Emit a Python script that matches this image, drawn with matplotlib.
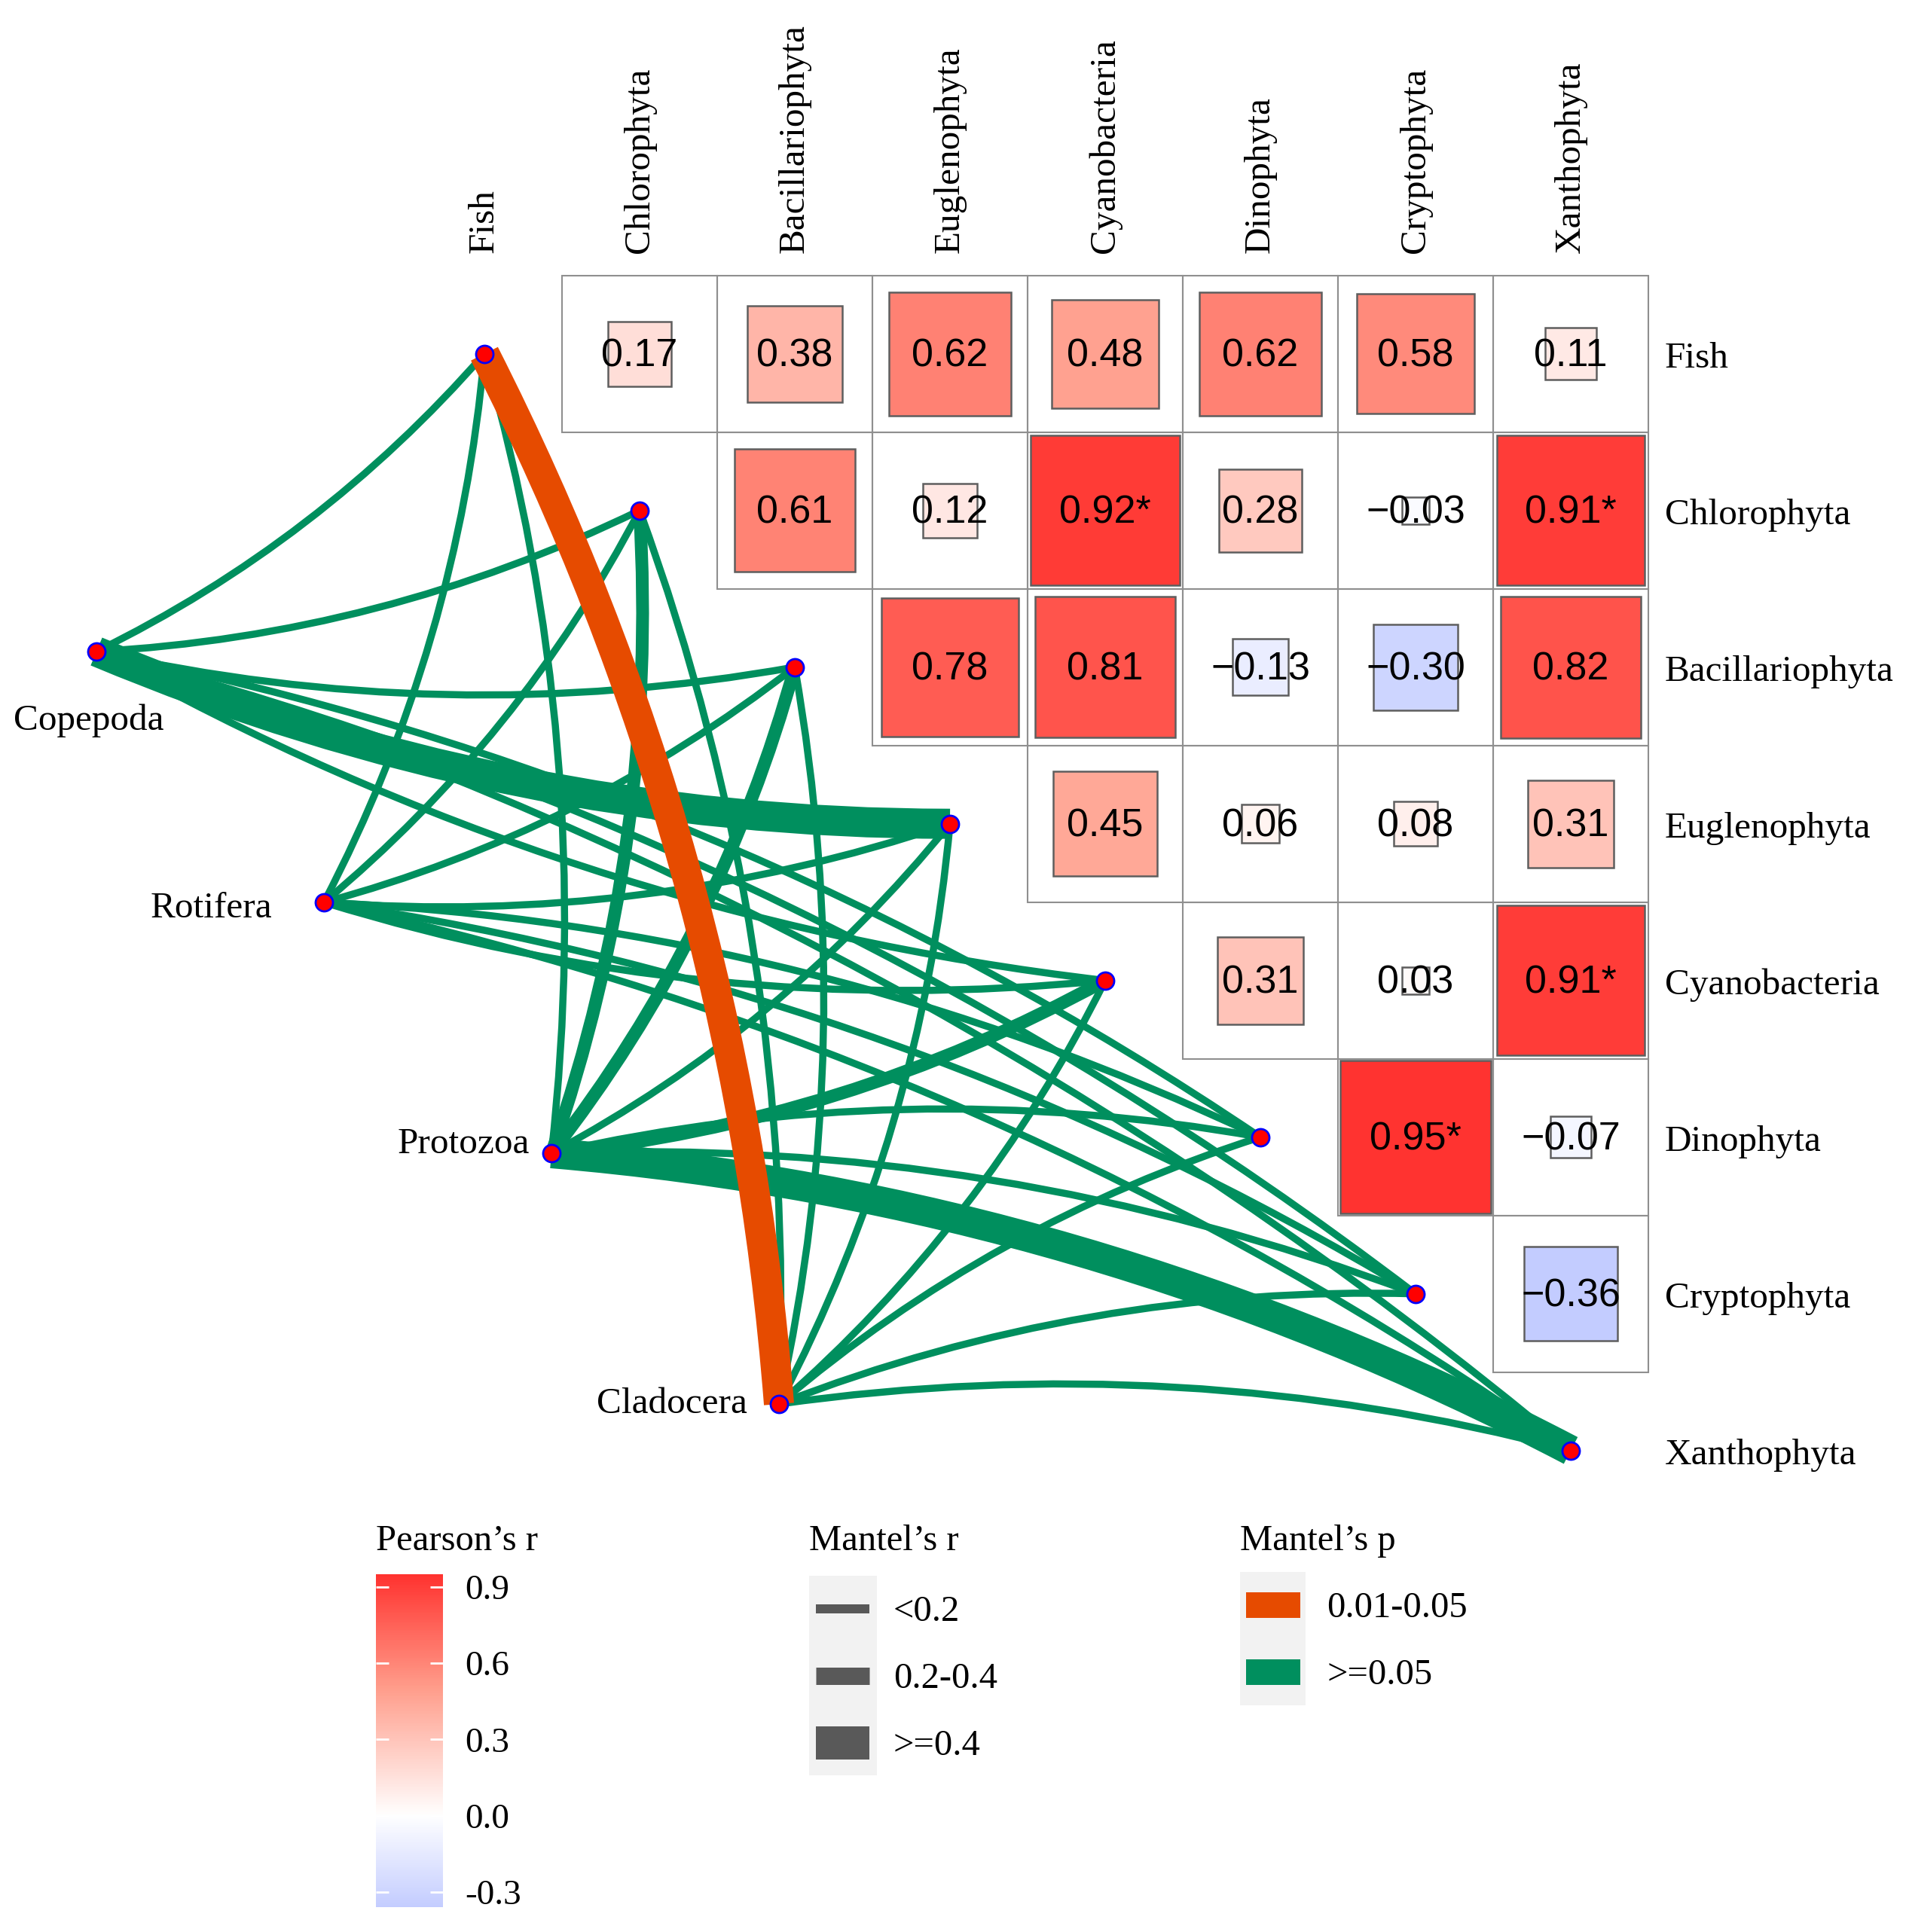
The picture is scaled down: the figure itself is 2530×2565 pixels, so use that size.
#!/usr/bin/python
########################
# TITLE: mantel_pearson_plot
# PURPOSE: pearson heat-squares of phytoplankton groups + mantel links to zooplankton
########################


#################################
# Importing Modules
#################################
import numpy as np
import pandas as pd
import matplotlib
matplotlib.use('Agg')
import matplotlib.pyplot as plt
from matplotlib.path import Path
from matplotlib.patches import PathPatch, Rectangle
from matplotlib.colors import LinearSegmentedColormap, Normalize

#################################
# Defining Constants
#################################
env = ['Fish', 'Chlorophyta', 'Bacillariophyta', 'Euglenophyta',
       'Cyanobacteria', 'Dinophyta', 'Cryptophyta', 'Xanthophyta']
species = ['Copepoda', 'Rotifera', 'Protozoa', 'Cladocera']

# pearson's r, upper triangle, row by row
r_fish = [0.17, 0.38, 0.62, 0.48, 0.62, 0.58, 0.11]
r_chlo = [0.61, 0.12, 0.92, 0.28, -0.03, 0.91]
r_baci = [0.78, 0.81, -0.13, -0.30, 0.82]
r_eugl = [0.45, 0.06, 0.08, 0.31]
r_cyan = [0.31, 0.03, 0.91]
r_dino = [0.95, -0.07]
r_cryp = [-0.36]
pearson_rows = [r_fish, r_chlo, r_baci, r_eugl, r_cyan, r_dino, r_cryp]
signif_pairs = [('Chlorophyta', 'Cyanobacteria'), ('Chlorophyta', 'Xanthophyta'),
                ('Cyanobacteria', 'Xanthophyta'), ('Dinophyta', 'Cryptophyta')]

# mantel r / p of each zooplankton group against env (same order as env)
mantel_r_cope = [0.12, 0.18, 0.15, 0.45, 0.14, 0.10, 0.12, 0.16]
mantel_r_roti = [0.10, 0.08, 0.12, 0.15, 0.11, 0.09, 0.13, 0.10]
mantel_r_prot = [0.13, 0.28, 0.32, 0.17, 0.26, 0.15, 0.12, 0.42]
mantel_r_clad = [0.46, 0.14, 0.16, 0.11, 0.13, 0.10, 0.15, 0.12]
mantel_p_cope = [0.31, 0.12, 0.40, 0.07, 0.35, 0.52, 0.44, 0.29]
mantel_p_roti = [0.48, 0.63, 0.37, 0.22, 0.41, 0.58, 0.33, 0.47]
mantel_p_prot = [0.27, 0.09, 0.08, 0.34, 0.11, 0.39, 0.46, 0.06]
mantel_p_clad = [0.03, 0.36, 0.28, 0.51, 0.42, 0.61, 0.30, 0.38]

W, H = 2530, 2565
DPI = 100
X0, CW = 643.0, 206.0     # pixel x of col 0 center, cell width
Y0, CH = 469.7, 208.0     # pixel y of row 0 center, cell height

serif = 'Liberation Serif'
sans = 'Liberation Sans'
green = '#008F5E'
orange = '#E64B00'

#################################
# Defining Functions
#################################
def px(x, y):
    # pixel (from top-left) -> data coords
    return (x - X0) / CW, (Y0 - y) / CH


def curve_path(p0, p1, k):
    x0, y0 = p0
    x1, y1 = p1
    dx, dy = x1 - x0, y1 - y0
    cx = (x0 + x1) / 2 + k * dy
    cy = (y0 + y1) / 2 - k * dx
    return Path([(x0, y0), (cx, cy), (x1, y1)],
                [Path.MOVETO, Path.CURVE3, Path.CURVE3])


def fmt(v, star):
    s = '%.2f' % v
    s = s.replace('-', '\u2212')
    if star:
        s = s + '*'
    return s

#################################
# Performing Work
#################################
cmap = LinearSegmentedColormap.from_list(
    'pr', [(0.0, (91/255, 116/255, 1.0)), (0.5, (1, 1, 1)),
           (0.75, (1.0, 158/255, 140/255)), (1.0, (1.0, 40/255, 38/255))])
norm = Normalize(-1, 1)

fig = plt.figure(figsize=(W / DPI, H / DPI), dpi=DPI)
ax = fig.add_axes([0, 0, 1, 1])
ax.set_xlim(-X0 / CW, (W - X0) / CW)
ax.set_ylim(-(H - Y0) / CH, Y0 / CH)
ax.axis('off')

# correlation cells
for i, row in enumerate(pearson_rows):
    for k, val in enumerate(row):
        j = i + 1 + k
        ax.add_patch(Rectangle((j - 0.5, -i - 0.5), 1, 1, fill=False,
                               ec='#8F8F8F', lw=1.5, zorder=1))
        s = np.sqrt(abs(val))
        ax.add_patch(Rectangle((j - s / 2, -i - s / 2), s, s,
                               fc=cmap(norm(val)), ec='#5E5E5E', lw=1.8, zorder=2))
        star = (env[i], env[j]) in signif_pairs
        ax.text(j, -i - 0.015, fmt(val, star), ha='center', va='center',
                fontsize=37.5, family=sans, zorder=3)

# axis labels of the matrix
for i, name in enumerate(env):
    ax.text(i, px(0, 336)[1], name, rotation=90, ha='center', va='bottom',
            fontsize=35.5, family=serif)
    ax.text(px(2210, 0)[0], -i - 0.03, name, ha='left', va='center',
            fontsize=35.5, family=serif)

# mantel links
mantel = pd.DataFrame({
    'spec': np.repeat(species, len(env)),
    'env': env * len(species),
    'r': mantel_r_cope + mantel_r_roti + mantel_r_prot + mantel_r_clad,
    'p': mantel_p_cope + mantel_p_roti + mantel_p_prot + mantel_p_clad,
})
mantel['rd'] = pd.cut(mantel['r'], [-np.inf, 0.2, 0.4, np.inf], right=False,
                      labels=['<0.2', '0.2-0.4', '>=0.4'])
mantel['pd'] = pd.cut(mantel['p'], [0.01, 0.05, 1.0], right=False,
                      labels=['0.01-0.05', '>=0.05'])
width_map = {'<0.2': 9.5 * 0.72, '0.2-0.4': 17 * 0.72, '>=0.4': 40 * 0.72}
color_map = {'0.01-0.05': orange, '>=0.05': green}

sp_start = np.array(px(128, 865))
sp_end = np.array(px(1034, 1864))
sp_pos = {s: sp_start + (sp_end - sp_start) * t
          for s, t in zip(species, np.linspace(0, 1, len(species)))}
env_pos = {e: (float(i), -float(i)) for i, e in enumerate(env)}
sp_mean_y = np.mean([p[1] for p in sp_pos.values()])

mantel = mantel.sort_values('pd', ascending=False, kind='stable')
for _, row in mantel.iterrows():
    p0 = sp_pos[row['spec']]
    p1 = env_pos[row['env']]
    k = 0.1 if p1[1] > sp_mean_y else -0.1
    patch = PathPatch(curve_path(p0, p1, k), fill=False,
                      ec=color_map[row['pd']], lw=width_map[row['rd']],
                      capstyle='butt', joinstyle='round', zorder=4)
    ax.add_patch(patch)

# nodes
ex = [p[0] for p in env_pos.values()]
ey = [p[1] for p in env_pos.values()]
sx = [p[0] for p in sp_pos.values()]
sy = [p[1] for p in sp_pos.values()]
ax.scatter(ex + sx, ey + sy, s=275, c='#FF0000', edgecolors='#0000FF',
           linewidths=2, zorder=6)

# species labels
lab_off = {'Copepoda': (-10, 92), 'Rotifera': (-69, 8),
           'Protozoa': (-29, -12), 'Cladocera': (-42, 0)}
for s in species:
    x, y = sp_pos[s]
    ox, oy = lab_off[s]
    if s == 'Copepoda':
        ax.text(x + ox / CW, y - oy / CH, s, ha='center', va='center',
                fontsize=35.5, family=serif)
    else:
        ax.text(x + ox / CW, y - oy / CH, s, ha='right', va='center',
                fontsize=35.5, family=serif)

#############################
##  legends
#############################
# pearson colour bar
ax.text(*px(499, 2046), 'Pearson\u2019s r', ha='left', va='center',
        fontsize=35, family=serif)
cax = fig.add_axes([499 / W, 1 - 2532 / H, 89 / W, 442 / H])
grad = np.linspace(-0.36, 0.95, 300).reshape(-1, 1)
cax.imshow(grad, cmap=cmap, norm=norm, aspect='auto', origin='lower',
           extent=(0, 1, -0.36, 0.95))
cax.set_xlim(0, 1)
cax.set_ylim(-0.36, 0.95)
for sp in cax.spines.values():
    sp.set_visible(False)
cax.set_xticks([])
cax.set_yticks([-0.3, 0.0, 0.3, 0.6, 0.9])
cax.set_yticklabels(['-0.3', '0.0', '0.3', '0.6', '0.9'], family=serif, fontsize=34)
cax.tick_params(axis='y', left=True, right=True, labelleft=False, labelright=True,
                direction='in', length=12, width=2, color='white', pad=21)

# mantel's r
ax.text(*px(1074, 2046), 'Mantel\u2019s r', ha='left', va='center',
        fontsize=35, family=serif)
bx, by = px(1074, 2357)
bx2, by2 = px(1164, 2092)
ax.add_patch(Rectangle((bx, by), bx2 - bx, by2 - by, fc='#F2F2F2', ec='none', zorder=1))
r_keys = ['<0.2', '0.2-0.4', '>=0.4']
r_key_h = [12, 23, 44]
for lab, h, yy in zip(r_keys, r_key_h, [2136, 2225, 2314]):
    xa, ya = px(1083, yy)
    xb, _ = px(1154, yy)
    ax.plot([xa, xb], [ya, ya], color='#595959', lw=h * 0.72,
            solid_capstyle='butt', zorder=2)
    ax.text(*px(1186, yy + 4), lab, ha='left', va='center', fontsize=35, family=serif)

# mantel's p
ax.text(*px(1646, 2046), 'Mantel\u2019s p', ha='left', va='center',
        fontsize=35, family=serif)
bx, by = px(1646, 2264)
bx2, by2 = px(1733, 2087)
ax.add_patch(Rectangle((bx, by), bx2 - bx, by2 - by, fc='#F2F2F2', ec='none', zorder=1))
p_keys = ['0.01-0.05', '>=0.05']
for lab, yy in zip(p_keys, [2131, 2220]):
    xa, ya = px(1654, yy + 17)
    xb, yb = px(1726, yy - 17)
    ax.add_patch(Rectangle((xa, ya), xb - xa, yb - ya, fc=color_map[lab],
                           ec='none', zorder=2))
    ax.text(*px(1761, yy + 4), lab, ha='left', va='center', fontsize=35, family=serif)

plt.savefig('out.png', dpi=DPI)
